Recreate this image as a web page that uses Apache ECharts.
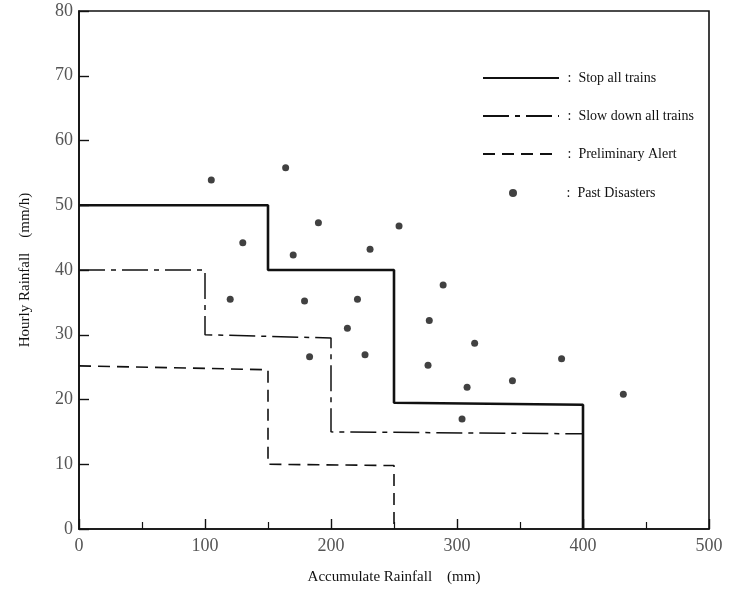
<!DOCTYPE html>
<html>
<head>
<meta charset="utf-8">
<script src="https://cdn.jsdelivr.net/npm/echarts@6/dist/echarts.min.js"></script>
<style>
html,body{margin:0;padding:0;background:#fff;}
#chart{width:729px;height:592px;}
</style>
</head>
<body>
<div id="chart"></div>
<script>
// threshold lines: [accumulated mm, hourly mm/h]
var stopLine = [[0, 50], [150, 50], [150, 40], [250, 40], [250, 19.5], [400, 19.2], [400, 0]];
var slowLine = [[0, 40], [100, 40], [100, 30], [200, 29.5], [200, 15], [400, 14.7]];
var alertLine = [[0, 25.2], [150, 24.6], [150, 10], [250, 9.8], [250, 0]];
// past disasters
var disasters = [
	[105, 53.9], [164, 55.8], [190, 47.3], [254, 46.8], [130, 44.2], [170, 42.3],
	[231, 43.2], [120, 35.5], [179, 35.2], [221, 35.5], [213, 31.0], [183, 26.6],
	[227, 26.9], [278, 32.2], [289, 37.7], [314, 28.7], [277, 25.3], [308, 21.9],
	[344, 22.9], [383, 26.3], [432, 20.8], [304, 17.0]
];
var lineNames = ['Stop all trains', 'Slow down all trains', 'Preliminary Alert'];
var dotName = 'Past Disasters';

var serif = '"Liberation Serif", "DejaVu Serif", serif';
var myChart = echarts.init(document.getElementById('chart'));
myChart.setOption({
	backgroundColor: '#fff',
	animation: false,
	grid: {
		left: 79, right: 20, top: 11, bottom: 63,
		show: true, borderColor: '#111', borderWidth: 1.6, backgroundColor: 'transparent'
	},
	legend: [{
		data: lineNames,
		orient: 'vertical',
		left: 477, top: 66,
		itemWidth: 76, itemHeight: 14, itemGap: 24,
		itemStyle: {opacity: 0},
		textStyle: {fontFamily: serif, fontSize: 14, color: '#111'},
		formatter: function(name){ return ' :  ' + name; },
		selectedMode: false
	}, {
		data: [dotName],
		orient: 'vertical',
		left: 504, top: 181,
		itemWidth: 8, itemHeight: 8,
		textStyle: {fontFamily: serif, fontSize: 14, color: '#111', padding: [0, 0, 0, 41]},
		formatter: function(name){ return ' :  ' + name; },
		selectedMode: false
	}],
	xAxis: {
		type: 'value', min: 0, max: 500, interval: 100,
		name: 'Accumulate Rainfall\u3000(mm)', nameLocation: 'middle', nameGap: 41,
		nameTextStyle: {fontFamily: serif, fontSize: 15, color: '#111'},
		axisLine: {show: true, lineStyle: {color: '#111', width: 1.6}},
		axisTick: {show: true, inside: true, length: 10, lineStyle: {color: '#111', width: 1.4}},
		minorTick: {show: true, splitNumber: 2, length: 7, lineStyle: {color: '#111', width: 1.2}},
		axisLabel: {fontFamily: serif, fontSize: 18, color: '#555', margin: 8},
		splitLine: {show: false}
	},
	yAxis: {
		type: 'value', min: 0, max: 80, interval: 10,
		name: 'Hourly Rainfall\u3000(mm/h)', nameLocation: 'middle', nameGap: 46,
		nameTextStyle: {fontFamily: serif, fontSize: 15, color: '#111'},
		axisLine: {show: true, lineStyle: {color: '#111', width: 1.6}},
		axisTick: {show: true, inside: true, length: 10, lineStyle: {color: '#111', width: 1.4}},
		axisLabel: {fontFamily: serif, fontSize: 18, color: '#555', margin: 6},
		splitLine: {show: false}
	},
	series: [{
		name: lineNames[0], type: 'line', data: stopLine, symbol: 'none',
		lineStyle: {color: '#111', width: 2.6, type: 'solid'}, itemStyle: {color: '#111'}
	}, {
		name: lineNames[1], type: 'line', data: slowLine, symbol: 'none',
		lineStyle: {color: '#111', width: 1.5, type: [26, 6, 5, 6]}, itemStyle: {color: '#111'}
	}, {
		name: lineNames[2], type: 'line', data: alertLine, symbol: 'none',
		lineStyle: {color: '#111', width: 1.6, type: [12, 7]}, itemStyle: {color: '#111'}
	}, {
		name: dotName, type: 'scatter', data: disasters, symbol: 'circle', symbolSize: 7,
		itemStyle: {color: '#111'}
	}]
});
</script>
</body>
</html>
